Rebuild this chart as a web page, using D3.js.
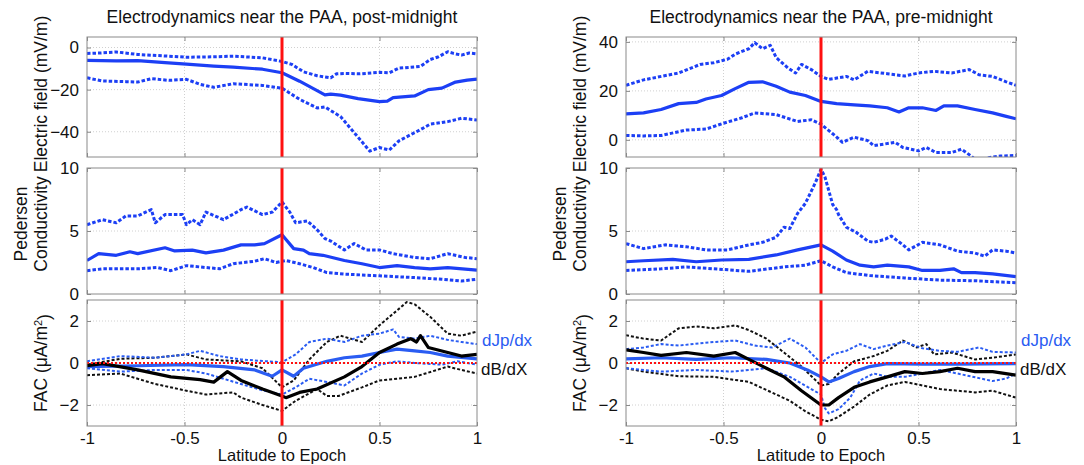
<!DOCTYPE html>
<html><head><meta charset="utf-8">
<script src="https://cdn.jsdelivr.net/npm/d3@7"></script>
<style>body{margin:0;background:#fff}svg{display:block}</style>
</head><body><svg id="c" width="1084" height="465"></svg>
<script>
// ---------- DATA ----------
const titles = ["Electrodynamics near the PAA, post-midnight", "Electrodynamics near the PAA, pre-midnight"];
const xTicks = [-1, -0.5, 0, 0.5, 1];
const xTickLabels = ["-1", "-0.5", "0", "0.5", "1"];
const postETicks = [-40, -20, 0];
const preETicks = [0, 20, 40];
const sigmaTicks = [0, 5, 10];
const facTicks = [-2, 0, 2];
const postEDomain = [-52, 5];
const preEDomain = [-7, 42];
const sigmaDomain = [0, 10];
const facDomain = [-3, 3];
const seriesLabels = ["dJp/dx", "dB/dX"];

// post-midnight electric field (mV/m)
const postE_mean = [[-1,-6.1],[-0.85,-6.3],[-0.74,-6.2],[-0.6,-7.2],[-0.49,-7.9],[-0.35,-8.8],[-0.25,-9.3],[-0.1,-10.3],[0,-12],[0.09,-16],[0.18,-20.5],[0.22,-22.5],[0.25,-22.1],[0.3,-22.6],[0.39,-24.3],[0.5,-25.7],[0.54,-25.5],[0.57,-23.8],[0.68,-23],[0.75,-20],[0.82,-19.3],[0.89,-16.4],[0.95,-15.5],[1,-15]];
const postE_hi = [[-1,-2.8],[-0.93,-2.6],[-0.85,-2.1],[-0.74,-3.3],[-0.6,-4],[-0.49,-4.6],[-0.35,-4.4],[-0.25,-4.1],[-0.1,-4.9],[0,-6.6],[0.05,-8],[0.11,-11.5],[0.18,-13.4],[0.25,-14.4],[0.28,-12.5],[0.32,-12.3],[0.4,-12.5],[0.5,-11.8],[0.55,-12],[0.6,-9.8],[0.71,-9],[0.76,-5.7],[0.8,-4.5],[0.85,-2],[0.88,-2.8],[0.92,-3.6],[0.96,-2.6],[1,-3]];
const postE_lo = [[-1,-14.4],[-0.92,-15.9],[-0.8,-16.2],[-0.74,-16.4],[-0.67,-14.8],[-0.58,-15.6],[-0.49,-15.1],[-0.42,-17.5],[-0.35,-18.9],[-0.25,-17.2],[-0.1,-18],[0,-19.3],[0.09,-24.6],[0.18,-28.7],[0.22,-28.2],[0.3,-32.8],[0.39,-42.6],[0.45,-49.2],[0.5,-47.5],[0.55,-48.7],[0.6,-44.3],[0.71,-39],[0.76,-36.4],[0.85,-35.2],[0.92,-33.6],[1,-34.4]];

// post-midnight Pedersen conductivity
const postS_mean = [[-1,2.66],[-0.94,3.2],[-0.85,3.07],[-0.78,3.35],[-0.74,3.2],[-0.6,3.67],[-0.55,3.42],[-0.46,3.48],[-0.39,3.26],[-0.3,3.48],[-0.21,3.9],[-0.14,3.9],[-0.09,4.0],[0,4.7],[0.06,3.6],[0.11,3.48],[0.14,3.2],[0.21,3.07],[0.32,2.66],[0.41,2.4],[0.5,2.1],[0.59,2.25],[0.68,2.1],[0.76,2.0],[0.85,2.1],[1,1.9]];
const postS_hi = [[-1,5.5],[-0.92,5.9],[-0.85,5.65],[-0.8,6.2],[-0.74,6.2],[-0.67,6.7],[-0.65,5.65],[-0.6,6.3],[-0.51,6.3],[-0.49,5.5],[-0.46,5.9],[-0.42,5.5],[-0.39,6.5],[-0.3,5.9],[-0.21,6.7],[-0.18,6.9],[-0.1,6.3],[-0.05,6.5],[0,7.3],[0.04,6.5],[0.07,5.65],[0.13,5.8],[0.18,5.1],[0.22,4.4],[0.25,4.2],[0.32,3.5],[0.37,4.0],[0.43,3.5],[0.5,3.5],[0.57,3.2],[0.68,2.9],[0.76,2.8],[0.85,3.2],[0.94,2.9],[1,2.8]];
const postS_lo = [[-1,1.85],[-0.92,2.0],[-0.74,2.0],[-0.64,2.1],[-0.57,1.85],[-0.49,2.25],[-0.39,2.1],[-0.32,2.0],[-0.25,2.4],[-0.14,2.6],[-0.09,2.8],[-0.03,2.5],[0.02,2.66],[0.09,2.4],[0.16,2.1],[0.23,1.7],[0.32,1.58],[0.5,1.44],[0.68,1.3],[0.82,1.17],[0.92,1.03],[1,1.17]];

// post-midnight FAC (uA/m^2)
const postJp_mean = [[-1,-0.17],[-0.74,-0.13],[-0.49,-0.08],[-0.3,-0.17],[-0.14,-0.33],[-0.05,-0.63],[0,-0.33],[0.06,-0.63],[0.11,-0.25],[0.23,0.08],[0.32,0.25],[0.41,0.33],[0.5,0.5],[0.59,0.66],[0.68,0.58],[0.76,0.5],[0.85,0.33],[1,0.2]];
const postJp_hi = [[-1,0.08],[-0.83,0.33],[-0.65,0.25],[-0.49,0.41],[-0.42,0.58],[-0.32,0.33],[-0.21,0.17],[0,0.03],[0.07,0.41],[0.14,1.0],[0.23,1.16],[0.32,1.0],[0.41,1.3],[0.5,1.4],[0.57,1.6],[0.6,1.24],[0.68,1.16],[0.76,1.3],[0.85,1.1],[0.92,1.0],[1,0.9]];
const postJp_lo = [[-1,-0.25],[-0.83,-0.41],[-0.65,-0.33],[-0.49,-0.33],[-0.39,-0.5],[-0.21,-1.0],[-0.1,-1.3],[0,-1.5],[0.07,-1.16],[0.14,-0.75],[0.23,-0.9],[0.32,-1.07],[0.41,-0.5],[0.5,-0.08],[0.59,0.08],[0.68,0],[0.82,-0.08],[0.9,0.08],[1,-0.08]];
const postB_mean = [[-1,-0.13],[-0.92,-0.03],[-0.74,-0.33],[-0.57,-0.66],[-0.42,-0.79],[-0.35,-0.91],[-0.28,-0.41],[-0.21,-0.83],[-0.1,-1.24],[0,-1.57],[0.02,-1.65],[0.09,-1.4],[0.18,-1.24],[0.32,-0.66],[0.41,-0.17],[0.5,0.5],[0.59,0.9],[0.66,1.16],[0.69,1.0],[0.71,1.3],[0.75,0.74],[0.85,0.5],[0.92,0.33],[1,0.41]];
const postB_hi = [[-1,-0.08],[-0.83,0.2],[-0.65,0.25],[-0.49,0.41],[-0.39,0.17],[-0.21,0.08],[-0.1,-0.25],[0,-1.16],[0.06,-0.83],[0.14,0.17],[0.23,1.0],[0.3,1.3],[0.41,1.0],[0.5,1.8],[0.59,2.5],[0.64,2.9],[0.68,2.8],[0.76,2.2],[0.85,1.4],[0.92,1.3],[1,1.5]];
const postB_lo = [[-1,-0.58],[-0.83,-0.5],[-0.65,-1.0],[-0.49,-1.32],[-0.39,-1.5],[-0.25,-1.4],[-0.21,-1.65],[-0.1,-2.0],[0,-2.28],[0.07,-1.8],[0.18,-1.24],[0.23,-1.57],[0.29,-1.57],[0.41,-1.16],[0.5,-0.83],[0.68,-0.66],[0.85,-0.17],[0.92,-0.33],[1,-0.5]];

// pre-midnight electric field (mV/m)
const preE_mean = [[-1,10.6],[-0.91,11],[-0.82,12.4],[-0.73,14.8],[-0.64,15.3],[-0.59,16.7],[-0.51,18.1],[-0.44,20.9],[-0.37,23.5],[-0.3,23.7],[-0.23,21.9],[-0.16,19.5],[-0.08,18.1],[0,15.7],[0.08,14.8],[0.17,14.3],[0.25,13.9],[0.34,13.1],[0.4,11.4],[0.45,13.1],[0.52,13.1],[0.59,12],[0.63,13.9],[0.7,13.9],[0.79,12.4],[0.88,11],[0.95,9.6],[1,8.6]];
const preE_hi = [[-1,22.3],[-0.91,24.5],[-0.73,27.3],[-0.62,30.8],[-0.55,31.5],[-0.48,32.9],[-0.44,35],[-0.37,37.2],[-0.34,39.7],[-0.3,37.2],[-0.26,38.6],[-0.23,33.6],[-0.17,29.4],[-0.13,27.3],[-0.1,30.8],[-0.05,28.7],[0,25.9],[0.04,24.7],[0.13,25.9],[0.17,24.5],[0.24,28],[0.34,27],[0.43,26.1],[0.5,27.3],[0.58,28],[0.67,27.3],[0.76,28.7],[0.81,26.6],[0.88,25.9],[0.95,23.7],[1,22.3]];
const preE_lo = [[-1,1.8],[-0.91,1.6],[-0.82,1.8],[-0.69,4.0],[-0.59,4.4],[-0.5,6.8],[-0.41,8.9],[-0.34,11],[-0.23,10.3],[-0.12,7.5],[-0.05,8.2],[0,6.4],[0.06,2.5],[0.11,-1],[0.17,1.1],[0.24,-0.3],[0.27,-2.4],[0.38,-1],[0.42,-3.1],[0.5,-4.5],[0.54,-3.1],[0.59,-5.2],[0.67,-5.2],[0.72,-3.8],[0.77,-6.6],[0.82,-10.2],[0.86,-7.3],[0.92,-6.6],[1,-6.4]];

// pre-midnight Pedersen conductivity
const preS_mean = [[-1,2.56],[-0.91,2.64],[-0.76,2.75],[-0.64,2.56],[-0.51,2.7],[-0.37,2.75],[-0.23,3.1],[-0.12,3.5],[0,3.9],[0.06,3.4],[0.13,2.7],[0.2,2.29],[0.27,2.15],[0.34,2.29],[0.45,2.15],[0.52,1.87],[0.61,1.87],[0.68,2.0],[0.72,1.7],[0.79,1.7],[0.88,1.6],[1,1.38]];
const preS_hi = [[-1,4.0],[-0.91,3.6],[-0.8,3.9],[-0.69,3.75],[-0.59,3.5],[-0.48,3.5],[-0.37,3.9],[-0.3,4.1],[-0.23,4.5],[-0.19,5.3],[-0.16,5.2],[-0.12,6.4],[-0.08,7.2],[-0.03,8.8],[0,9.9],[0.02,9.3],[0.06,7.1],[0.08,6.7],[0.09,6.3],[0.13,5.3],[0.18,4.9],[0.24,4.2],[0.27,4.1],[0.33,4.35],[0.36,4.6],[0.42,3.9],[0.45,3.5],[0.52,4.1],[0.61,3.9],[0.7,3.4],[0.79,3.25],[0.84,3.0],[0.88,3.5],[0.95,3.4],[1,3.25]];
const preS_lo = [[-1,1.87],[-0.82,2.0],[-0.69,2.15],[-0.55,2.0],[-0.37,1.8],[-0.19,2.15],[-0.08,2.29],[0,2.64],[0.06,2.15],[0.13,1.7],[0.25,1.46],[0.43,1.27],[0.61,1.1],[0.79,1.05],[1,0.9]];

// pre-midnight FAC (uA/m^2)
const preJp_mean = [[-1,0.2],[-0.82,0.25],[-0.64,0.17],[-0.46,0.25],[-0.28,0.17],[-0.16,0],[-0.07,-0.33],[0,-0.66],[0.04,-0.9],[0.09,-0.74],[0.17,-0.41],[0.25,-0.17],[0.34,-0.03],[0.52,-0.05],[0.7,-0.05],[1,-0.03]];
const preJp_hi = [[-1,0.66],[-0.91,0.74],[-0.82,0.9],[-0.73,0.83],[-0.55,1.0],[-0.44,1.07],[-0.34,0.83],[-0.25,0.74],[-0.16,1.16],[-0.08,0.74],[0,0],[0.06,0.41],[0.13,0.58],[0.2,0.9],[0.27,0.66],[0.34,0.83],[0.43,1.0],[0.52,0.7],[0.61,0.58],[0.7,0.53],[0.81,0.74],[0.88,0.53],[1,0.5]];
const preJp_lo = [[-1,-0.25],[-0.82,-0.41],[-0.64,-0.33],[-0.46,-0.41],[-0.28,-0.25],[-0.16,-0.66],[-0.05,-1.24],[0,-1.5],[0.02,-2.15],[0.04,-2.4],[0.09,-2.2],[0.15,-1.65],[0.2,-0.83],[0.27,-0.5],[0.34,-0.66],[0.43,-0.66],[0.52,-0.5],[0.61,-0.33],[0.7,-0.5],[0.88,-0.86],[0.95,-0.74],[1,-0.5]];
const preB_mean = [[-1,0.63],[-0.91,0.5],[-0.82,0.36],[-0.69,0.5],[-0.55,0.33],[-0.44,0.5],[-0.37,0.17],[-0.28,-0.25],[-0.19,-0.66],[-0.1,-1.32],[0,-2.0],[0.04,-2.0],[0.09,-1.65],[0.17,-1.16],[0.25,-0.9],[0.34,-0.66],[0.43,-0.41],[0.52,-0.5],[0.61,-0.41],[0.7,-0.25],[0.79,-0.41],[0.88,-0.41],[1,-0.58]];
const preB_hi = [[-1,1.32],[-0.91,1.16],[-0.82,1.07],[-0.73,1.65],[-0.64,1.74],[-0.55,1.65],[-0.44,1.79],[-0.37,1.57],[-0.28,1.16],[-0.19,0.5],[-0.1,-0.17],[0,-1.07],[0.04,-1.0],[0.09,-0.5],[0.17,0.08],[0.27,0.33],[0.34,0.58],[0.42,1.07],[0.49,0.74],[0.54,0.9],[0.58,0.41],[0.67,0.5],[0.79,0.17],[0.88,0.25],[1,0.41]];
const preB_lo = [[-1,-0.25],[-0.91,-0.41],[-0.73,-0.63],[-0.55,-0.66],[-0.37,-0.9],[-0.23,-1.5],[-0.16,-1.8],[-0.08,-2.3],[0,-2.7],[0.04,-2.78],[0.09,-2.56],[0.17,-2.07],[0.25,-1.5],[0.34,-1.07],[0.43,-0.9],[0.52,-1.07],[0.61,-1.24],[0.7,-1.32],[0.79,-1.4],[0.88,-1.32],[1,-1.65]];

// ---------- STYLE / LAYOUT ----------
const FONT = "'Liberation Sans', Arial, Helvetica, sans-serif";
const BLUE = "#1c3ff5";
const FBLUE = "#2a5cf2";
const RED = "#ff1010";
const cols = [{x0: 87, x1: 477}, {x0: 626, x1: 1016}];
const rows = [{y0: 37, y1: 157}, {y0: 168, y1: 294}, {y0: 300, y1: 426}];

const svg = d3.select("#c").style("font-family", FONT);
let clipId = 0;

function panel(col, row, domain, yTicks, series, opts) {
  const c = cols[col], r = rows[row];
  const x = d3.scaleLinear().domain([-1, 1]).range([c.x0, c.x1]);
  const y = d3.scaleLinear().domain(domain).range([r.y1, r.y0]);
  const g = svg.append("g");
  const id = "clip" + (clipId++);
  g.append("clipPath").attr("id", id).append("rect")
    .attr("x", c.x0).attr("y", r.y0).attr("width", c.x1 - c.x0).attr("height", r.y1 - r.y0);
  // grid
  const grid = g.append("g").attr("stroke", "#d0d0d0").attr("stroke-width", 1).attr("stroke-dasharray", "1,2");
  xTicks.filter(t => t > -1 && t < 1).forEach(t => grid.append("line")
    .attr("x1", x(t)).attr("x2", x(t)).attr("y1", r.y0).attr("y2", r.y1));
  yTicks.filter(t => t > domain[0] && t < domain[1]).forEach(t => grid.append("line")
    .attr("x1", c.x0).attr("x2", c.x1).attr("y1", y(t)).attr("y2", y(t)));
  // axes
  const ax = g.append("g").attr("transform", `translate(0,${r.y1})`)
    .call(d3.axisBottom(x).tickValues(xTicks).tickSize(-4).tickPadding(6)
      .tickFormat((d, i) => opts.xLabels ? xTickLabels[i] : ""));
  const axT = g.append("g").attr("transform", `translate(0,${r.y0})`)
    .call(d3.axisTop(x).tickValues(xTicks).tickSize(-4).tickFormat(""));
  const ay = g.append("g").attr("transform", `translate(${c.x0},0)`)
    .call(d3.axisLeft(y).tickValues(yTicks).tickSize(-4).tickPadding(8).tickFormat(d3.format("d")));
  const ayR = g.append("g").attr("transform", `translate(${c.x1},0)`)
    .call(d3.axisRight(y).tickValues(yTicks).tickSize(-4).tickFormat(""));
  [ax, axT, ay, ayR].forEach(a => {
    a.select(".domain").remove();
    a.selectAll("line").attr("stroke", "#8a8a8a");
    a.selectAll("text").attr("font-size", 17).attr("fill", "#111").attr("font-family", FONT);
  });
  // series
  const line = d3.line().x(d => x(d[0])).y(d => y(d[1]));
  const sg = g.append("g").attr("clip-path", `url(#${id})`);
  series.forEach(s => {
    sg.append("path").attr("d", line(s.data)).attr("fill", "none")
      .attr("stroke", s.color).attr("stroke-width", s.w)
      .attr("stroke-dasharray", s.dash || null).attr("stroke-linejoin", "round");
  });
  if (opts.zeroLine) {
    sg.append("line").attr("x1", c.x0).attr("x2", c.x1).attr("y1", y(0)).attr("y2", y(0))
      .attr("stroke", RED).attr("stroke-width", 2).attr("stroke-dasharray", "2,2");
  }
  sg.append("line").attr("x1", x(0)).attr("x2", x(0)).attr("y1", r.y0).attr("y2", r.y1)
    .attr("stroke", RED).attr("stroke-width", 3);
  // box
  g.append("rect").attr("x", c.x0).attr("y", r.y0).attr("width", c.x1 - c.x0).attr("height", r.y1 - r.y0)
    .attr("fill", "none").attr("stroke", "#8a8a8a").attr("stroke-width", 1);
  return {x, y};
}

const dot = "3.5,2";
const fdot = "3,2";
function eSeries(m, hi, lo) {
  return [
    {data: hi, color: BLUE, w: 3, dash: dot},
    {data: lo, color: BLUE, w: 3, dash: dot},
    {data: m, color: BLUE, w: 3.2}
  ];
}
function facSeries(jm, jh, jl, bm, bh, bl) {
  return [
    {data: bh, color: "#111", w: 2, dash: fdot},
    {data: bl, color: "#111", w: 2, dash: fdot},
    {data: jh, color: FBLUE, w: 2, dash: fdot},
    {data: jl, color: FBLUE, w: 2, dash: fdot},
    {data: jm, color: FBLUE, w: 3.2},
    {data: bm, color: "#000", w: 3.2}
  ];
}

panel(0, 0, postEDomain, postETicks, eSeries(postE_mean, postE_hi, postE_lo), {});
panel(0, 1, sigmaDomain, sigmaTicks, eSeries(postS_mean, postS_hi, postS_lo), {});
panel(0, 2, facDomain, facTicks, facSeries(postJp_mean, postJp_hi, postJp_lo, postB_mean, postB_hi, postB_lo), {xLabels: true, zeroLine: true});
panel(1, 0, preEDomain, preETicks, eSeries(preE_mean, preE_hi, preE_lo), {});
panel(1, 1, sigmaDomain, sigmaTicks, eSeries(preS_mean, preS_hi, preS_lo), {});
panel(1, 2, facDomain, facTicks, facSeries(preJp_mean, preJp_hi, preJp_lo, preB_mean, preB_hi, preB_lo), {xLabels: true, zeroLine: true});

// titles, labels
cols.forEach((c, i) => {
  const cx = (c.x0 + c.x1) / 2;
  svg.append("text").attr("x", cx).attr("y", 23).attr("text-anchor", "middle")
    .attr("font-size", 17.5).attr("fill", "#111").text(titles[i]);
  svg.append("text").attr("x", cx).attr("y", 461).attr("text-anchor", "middle")
    .attr("font-size", 16.5).attr("fill", "#111").text("Latitude to Epoch");
  const lx = c.x0 - 40;
  svg.append("text").attr("transform", `translate(${lx},${(rows[0].y0 + rows[0].y1) / 2 - 3}) rotate(-90)`)
    .attr("text-anchor", "middle").attr("font-size", 17.5).attr("fill", "#111").text("Electric field (mV/m)");
  const pt = svg.append("text").attr("transform", `translate(${lx},224) rotate(-90)`)
    .attr("text-anchor", "middle").attr("font-size", 17.5).attr("fill", "#111");
  pt.append("tspan").attr("x", 0).attr("dy", "-1.15em").text("Pedersen");
  pt.append("tspan").attr("x", 0).attr("dy", "1.15em").text("Conductivity");
  const ft = svg.append("text").attr("transform", `translate(${lx},${(rows[2].y0 + rows[2].y1) / 2}) rotate(-90)`)
    .attr("text-anchor", "middle").attr("font-size", 17.5).attr("fill", "#111");
  ft.append("tspan").text("FAC (\u03BCA/m");
  ft.append("tspan").attr("dy", "-0.45em").attr("font-size", 11).text("2");
  ft.append("tspan").attr("dy", "0.45em").text(")");
  svg.append("text").attr("x", c.x1 + 5).attr("y", 346).attr("font-size", 17).attr("fill", "#2a5cf2").text(seriesLabels[0]);
  svg.append("text").attr("x", c.x1 + 4).attr("y", 375).attr("font-size", 17).attr("fill", "#111").text(seriesLabels[1]);
});
</script></body></html>
